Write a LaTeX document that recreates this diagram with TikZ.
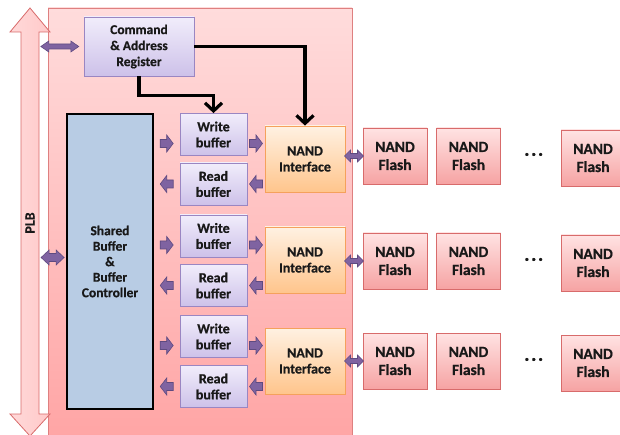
\documentclass[tikz,border=0pt]{standalone}
\usepackage{fontspec}
\setmainfont{Carlito}[BoldFeatures={FakeBold=0.6}]
\usetikzlibrary{arrows.meta,calc}

\definecolor{boardtop}{HTML}{FFDCDC}
\definecolor{boardbot}{HTML}{FFA4A4}
\definecolor{boardline}{HTML}{DE8080}
\definecolor{plbfill}{HTML}{FFC9C9}
\definecolor{plbline}{HTML}{D86A6A}
\definecolor{purtop}{HTML}{F1EDFB}
\definecolor{purbot}{HTML}{CDC1E9}
\definecolor{purline}{HTML}{9A86C2}
\definecolor{arrfill}{HTML}{7F63A1}
\definecolor{arrline}{HTML}{5E4A80}
\definecolor{sbfill}{HTML}{B8CCE4}
\definecolor{nitop}{HTML}{FFF1E2}
\definecolor{nibot}{HTML}{FFC58C}
\definecolor{niline}{HTML}{F5A15C}
\definecolor{fltop}{HTML}{FFE3E3}
\definecolor{flbot}{HTML}{F6A3A3}
\definecolor{flline}{HTML}{D86B6B}

\tikzset{
  txt/.style={align=center, inner sep=0pt, text=black!90},
  purbox/.style={txt, draw=purline, line width=0.8pt, top color=purtop, bottom color=purbot,
    font=\bfseries\fontsize{14}{16}\selectfont},
  carbox/.style={purbox, minimum width=110pt, minimum height=59pt,
    font=\bfseries\fontsize{13.5}{16}\selectfont},
  bufbox/.style={purbox, minimum width=67pt, minimum height=42pt},
  sbbox/.style={txt, draw=black, line width=1.6pt, fill=sbfill, minimum width=86pt,
    minimum height=295pt, font=\bfseries\fontsize{13.5}{15.5}\selectfont},
  nibox/.style={txt, draw=niline, line width=0.8pt, top color=nitop, bottom color=nibot,
    minimum width=80pt, minimum height=66pt, font=\bfseries\fontsize{14}{16}\selectfont},
  flbox/.style={txt, draw=flline, line width=0.8pt, top color=fltop, bottom color=flbot,
    minimum width=64pt, minimum height=56pt, font=\bfseries\fontsize{15.5}{18}\selectfont},
  dotsnode/.style={txt, font=\bfseries\fontsize{16}{16}\selectfont},
  fatfill/.style={fill=arrfill, draw=arrline, line width=0.6pt, line join=miter},
  ctrl/.style={line width=3.2pt, draw=black, -{Straight Barb[length=8pt,width=17pt]}},
  % one-headed fat arrow pointing along +x, centred on the origin
  pics/fatone/.style={code={
    \path[fatfill] (-6.5,-4) -- (0,-4) -- (0,-8.5) -- (6.5,0) -- (0,8.5) -- (0,4) -- (-6.5,4) -- cycle;
  }},
  % two-headed fat arrow: length, head length, head width, shaft width
  pics/dblarrow/.style n args={4}{code={
    \path[fatfill] (-#1/2,0) -- (-#1/2+#2,-#3/2) -- (-#1/2+#2,-#4/2) -- (#1/2-#2,-#4/2)
      -- (#1/2-#2,-#3/2) -- (#1/2,0) -- (#1/2-#2,#3/2) -- (#1/2-#2,#4/2)
      -- (-#1/2+#2,#4/2) -- (-#1/2+#2,#3/2) -- cycle;
  }},
}

\begin{document}
\begin{tikzpicture}[x=1pt,y=-1pt]
\useasboundingbox (0,0) rectangle (620,435);
\clip (0,0) rectangle (620,435);

% controller board
\path[draw=boardline, line width=0.8pt, top color=boardtop, bottom color=boardbot]
  (48,8) rectangle (352,445);

% PLB bus
\path[draw=plbline, line width=0.8pt, left color=plbfill!70!white, right color=plbfill]
  (30,8) -- (50,32) -- (39,32) -- (39,414) -- (50,414) -- (30,436) -- (10,414)
  -- (21,414) -- (21,32) -- (10,32) -- cycle;
\node[txt, rotate=90, font=\bfseries\fontsize{14}{14}\selectfont] (plb) at (30,223) {PLB};
\coordinate (plbr) at (39,223);

% blocks
\node[carbox] (car) at (139,46.5) {Command\\\& Address\\Register};
\node[sbbox] (sb) at (110,261.5) {Shared\\Buffer\\\&\\Buffer\\Controller};

\foreach \k/\wy/\ry/\ny/\fy in {1/134.5/184/159/156, 2/236/285.5/260/261, 3/336.5/386.5/361/361}{
  \node[bufbox] (wb\k) at (213.5,\wy) {Write\\buffer};
  \node[bufbox] (rb\k) at (213.5,\ry) {Read\\buffer};
  \node[nibox] (ni\k) at (305,\ny) {NAND\\Interface};
  \node[flbox] (fa\k) at (395,\fy) {NAND\\Flash};
  \node[flbox] (fb\k) at (468.5,\fy) {NAND\\Flash};
  \node[flbox] (fc\k) at (593,\fy+2) {NAND\\Flash};
  \node[dotsnode] (dt\k) at ($(fb\k.east)!0.5!(fc\k.west)+(3,-1)$) {·\hspace{2.6pt}·\hspace{2.6pt}·};

  % data paths
  \pic at ($(sb.east|-wb\k.west)!0.5!(wb\k.west)+(0,9)$) {fatone};
  \pic[rotate=180] at ($(sb.east|-rb\k.west)!0.5!(rb\k.west)$) {fatone};
  \pic at ($(wb\k.east)!0.5!(ni\k.west|-wb\k.east)+(0,9)$) {fatone};
  \pic[rotate=180] at ($(rb\k.east)!0.5!(ni\k.west|-rb\k.east)$) {fatone};
  \pic at ($(ni\k.east|-fa\k.west)!0.5!(fa\k.west)$) {dblarrow={19}{6}{12}{5}};
}

% bus connections
\pic at ($(plbr|-car.west)!0.5!(car.west)+(-1.5,0)$) {dblarrow={38}{8}{11}{5}};
\pic at ($(plbr|-sb.west)!0.5!(sb.west)+(0,-4)$) {dblarrow={23}{8}{15}{8}};

% control lines
\draw[ctrl] (car.east) -| (ni1.north);
\draw[ctrl] (car.south) -- ++(0,19) -| (wb1.north);
\end{tikzpicture}
\end{document}
